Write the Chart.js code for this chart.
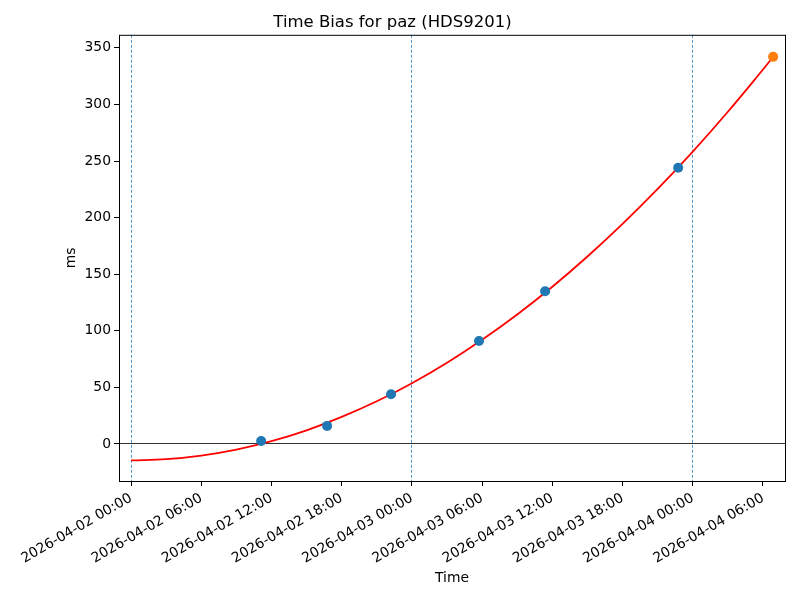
<!DOCTYPE html>
<html>
<head>
<meta charset="utf-8">
<script src="https://cdn.jsdelivr.net/npm/chart.js@4"></script>
<style>
  html, body { margin: 0; padding: 0; background: #fff; }
  canvas { display: block; }
</style>
</head>
<body>
<canvas id="biasChart" width="800" height="600"></canvas>
<script>
// measured time bias samples
const pointTimes = ['2026-04-02 11:07', '2026-04-02 16:45', '2026-04-02 22:13',
                    '2026-04-03 05:44', '2026-04-03 11:23', '2026-04-03 22:45'];
const pointValues = [2.7, 16, 44, 91, 135, 244];

// latest sample (highlighted)
const latestTimes = ['2026-04-04 06:52'];
const latestValues = [342];

// fitted curve
const curveTimes = ['2026-04-02 00:00', '2026-04-02 03:00', '2026-04-02 06:00', '2026-04-02 09:00',
                    '2026-04-02 12:00', '2026-04-02 15:00', '2026-04-02 18:00', '2026-04-02 21:00',
                    '2026-04-03 00:00', '2026-04-03 03:00', '2026-04-03 06:00', '2026-04-03 09:00',
                    '2026-04-03 12:00', '2026-04-03 15:00', '2026-04-03 18:00', '2026-04-03 21:00',
                    '2026-04-04 00:00', '2026-04-04 03:00', '2026-04-04 06:00', '2026-04-04 06:52'];
const curveValues = [-14.5, -13.4, -10.2, -4.9, 2.5, 12.1, 23.9, 37.7, 53.7, 71.8,
                     92.1, 114.4, 138.9, 165.6, 194.4, 225.3, 258.3, 293.5, 330.8, 342];

const yTicks = [0, 50, 100, 150, 200, 250, 300, 350];

const base = Date.parse('2026-04-02T00:00:00Z');
function toHours(s) {
  return (Date.parse(s.replace(' ', 'T') + ':00Z') - base) / 3600000;
}
function fmtHours(h) {
  const d = new Date(base + h * 3600000);
  return d.toISOString().slice(0, 16).replace('T', ' ');
}
function toXY(times, values) {
  return times.map((t, i) => ({ x: toHours(t), y: values[i] }));
}

Chart.defaults.font.family = 'DejaVu Sans';
Chart.defaults.color = '#000';

const framePlugin = {
  id: 'frame',
  afterDatasetsDraw(chart) {
    const { ctx, chartArea: a } = chart;
    ctx.save();
    ctx.strokeStyle = '#000';
    ctx.lineWidth = 1;
    ctx.strokeRect(a.left + 0.5, a.top + 0.5, a.right - a.left, a.bottom - a.top);
    ctx.restore();
  }
};

const ctx = document.getElementById('biasChart').getContext('2d');
new Chart(ctx, {
  type: 'scatter',
  data: {
    datasets: [
      {
        label: 'latest',
        data: toXY(latestTimes, latestValues),
        backgroundColor: '#ff7f0e',
        borderWidth: 0,
        pointRadius: 5
      },
      {
        label: 'samples',
        data: toXY(pointTimes, pointValues),
        backgroundColor: '#1f77b4',
        borderWidth: 0,
        pointRadius: 5
      },
      {
        label: 'fit',
        type: 'line',
        data: toXY(curveTimes, curveValues),
        borderColor: 'red',
        borderWidth: 1.8,
        pointRadius: 0,
        fill: false,
        tension: 0.4
      }
    ]
  },
  options: {
    responsive: false,
    animation: false,
    layout: { padding: { left: 0, right: 15, top: 0, bottom: 0 } },
    plugins: {
      legend: { display: false },
      tooltip: { enabled: false },
      title: {
        display: true,
        text: 'Time Bias for paz (HDS9201)',
        font: { size: 16.5, weight: 'normal' },
        padding: { top: 13, bottom: 2 }
      }
    },
    scales: {
      x: {
        type: 'linear',
        min: -1.03,
        max: 55.88,
        afterFit(scale) { scale.height = 119; },
        border: { display: false, dash: [3, 2] },
        grid: {
          color: c => (c.tick && c.tick.value % 24 === 0) ? '#1f77b4' : 'rgba(0,0,0,0)',
          lineWidth: 0.8,
          tickColor: '#000',
          tickLength: 5,
          tickWidth: 1,
          tickBorderDash: []
        },
        ticks: {
          stepSize: 6,
          includeBounds: false,
          autoSkip: false,
          minRotation: 30,
          maxRotation: 30,
          padding: 4,
          font: { size: 13.9 },
          callback: v => fmtHours(v)
        },
        title: {
          display: true,
          text: 'Time',
          font: { size: 13.9 },
          padding: { top: 0, bottom: 13 }
        }
      },
      y: {
        min: -32.7,
        max: 361.5,
        afterFit(scale) { scale.width = 119; },
        afterBuildTicks(scale) { scale.ticks = yTicks.map(v => ({ value: v })); },
        border: { display: false },
        grid: {
          color: c => (c.tick && c.tick.value === 0) ? '#000' : 'rgba(0,0,0,0)',
          lineWidth: 0.8,
          tickColor: '#000',
          tickLength: 5,
          tickWidth: 1
        },
        ticks: {
          padding: 3,
          font: { size: 13.9 }
        },
        title: {
          display: true,
          text: 'ms',
          font: { size: 13.9 },
          padding: { top: 63, bottom: 0 }
        }
      }
    }
  },
  plugins: [framePlugin]
});
</script>
</body>
</html>
